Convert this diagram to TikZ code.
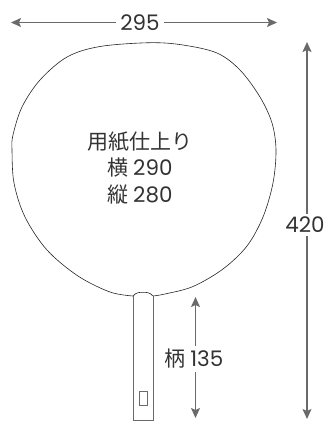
\documentclass[tikz,border=0pt]{standalone}
\usepackage{fontspec}
\setmainfont{Noto Sans CJK JP}
\newfontfamily\numfont{Poppins}[Scale=1.02]
\usetikzlibrary{arrows.meta}

\definecolor{dimgray}{HTML}{6A6A6A}
\definecolor{txtgray}{HTML}{333333}

\tikzstyle{dim}=[draw=dimgray, line width=1.4bp,
                 {Stealth[length=10bp,width=9bp,inset=2bp]}-{Stealth[length=10bp,width=9bp,inset=2bp]}]
\tikzstyle{lbl}=[fill=white, text=txtgray, inner xsep=4bp, inner ysep=3bp,
                 font=\fontsize{21bp}{26.5bp}\selectfont]

\begin{document}
\begin{tikzpicture}[x=1bp,y=-1bp]
  \useasboundingbox (0,0) rectangle (331,428);

  % fan
  \draw[line width=0.6bp, black!85] plot[smooth, tension=0.55] coordinates {
      (133,296) (110,292) (78,276) (47,250) (25,217) (14,183) (12,150)
      (13,135) (22,107) (40,80) (67,57) (100,46.5) (150,42.7) (183,45)
      (217,53) (240,70) (260,97) (272,123) (276,150) (273,183) (263,217)
      (247,246) (223,269) (193,286.5) (165,294) (153,296)};
  \draw[line width=0.6bp, black!85] (133,296) .. controls (136,292.2) and (140,292.3) .. (143,292.3)
      .. controls (146,292.3) and (150,292.2) .. (153,296);

  % handle
  \draw[line width=0.8bp, dimgray] (133,296) -- (133,420) -- (153,420) -- (153,296);
  \draw[line width=0.8bp, dimgray] (139.3,391) rectangle (147.3,405.3);

  \node[lbl, fill=none, align=center] (paper) at (140,168)
      {用紙仕上り\\横 {\numfont 290}\\縦 {\numfont 280}};

  % width
  \coordinate (wl) at (11,22.5);
  \coordinate (wr) at (277,22.5);
  \draw[dim] (wl) -- (wr);
  \node[lbl] (w) at (140,22.5) {\numfont 295};

  % height
  \coordinate (ht) at (307,42);
  \coordinate (hb) at (307,419);
  \draw[dim] (ht) -- (hb);
  \node[lbl] (h) at (305,225) {\numfont 420};

  % handle length
  \coordinate (gt) at (195.5,297);
  \coordinate (gb) at (195.5,418);
  \draw[dim] (gt) -- (gb);
  \node[lbl] (g) at (194,359) {柄 {\numfont 135}};
\end{tikzpicture}
\end{document}
